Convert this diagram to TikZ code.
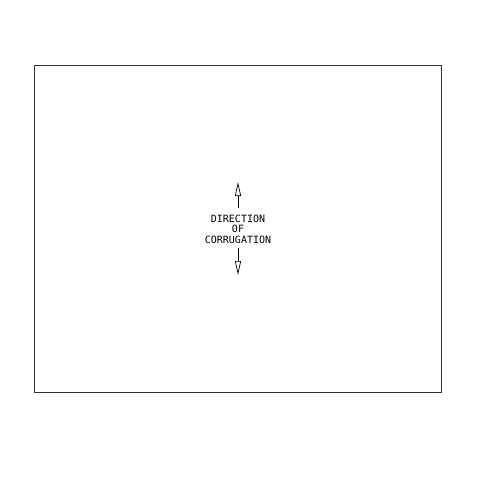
\documentclass[tikz,border=0pt]{standalone}
\usepackage{fontspec}
\setmonofont{DejaVu Sans Mono}
\usetikzlibrary{arrows.meta}
\begin{document}
\begin{tikzpicture}[x=1pt,y=-1pt,
  frame/.style={draw=black!80, line width=0.9pt},
  dirarrow/.style={draw=black, line width=0.7pt, -{Triangle[open, length=14pt, width=6pt, line width=0.7pt]}},
  lbl/.style={font=\ttfamily\fontsize{10}{10.5}\selectfont, align=center, inner sep=0pt}]
\useasboundingbox (0,0) rectangle (480,480);
\node[frame, minimum width=407pt, minimum height=327pt, inner sep=0pt, anchor=north west] (box) at (34,65) {};
\node[lbl] (txt) at (238,229) {DIRECTION\\OF\\CORRUGATION};
\coordinate (ttop) at (238,182);
\coordinate (tbot) at (238,275);
\draw[dirarrow] (txt.north |- 0,208) -- (ttop);
\draw[dirarrow] (txt.south |- 0,248) -- (tbot);
\end{tikzpicture}
\end{document}
